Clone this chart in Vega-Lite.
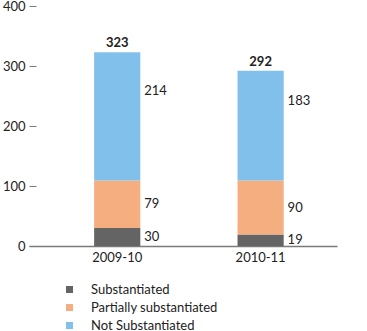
{
  "$schema": "https://vega.github.io/schema/vega-lite/v6.json",
  "width": 308,
  "height": 240,
  "autosize": "none",
  "padding": {"left": 29, "top": 6, "right": 30, "bottom": 85},
  "config": {
    "font": "Lato",
    "view": {"stroke": null},
    "text": {"font": "Lato", "fontSize": 13, "color": "#222222"}
  },
  "data": {
    "values": [
      {"year": "2009-10", "category": "Substantiated", "k": 1, "value": 30},
      {"year": "2009-10", "category": "Partially substantiated", "k": 2, "value": 79},
      {"year": "2009-10", "category": "Not Substantiated", "k": 3, "value": 214},
      {"year": "2010-11", "category": "Substantiated", "k": 1, "value": 19},
      {"year": "2010-11", "category": "Partially substantiated", "k": 2, "value": 90},
      {"year": "2010-11", "category": "Not Substantiated", "k": 3, "value": 183}
    ]
  },
  "encoding": {
    "x": {
      "field": "year",
      "type": "nominal",
      "scale": {"paddingInner": 0.678, "paddingOuter": 0.413, "align": 0.55},
      "axis": {
        "title": null,
        "labelAngle": 0,
        "ticks": false,
        "labelPadding": 5,
        "labelFont": "Lato",
        "labelFontSize": 13,
        "labelColor": "#222222",
        "domainColor": "#7a7a7a",
        "domainWidth": 1.5
      }
    }
  },
  "layer": [
    {
      "mark": {"type": "bar"},
      "encoding": {
        "y": {
          "field": "value",
          "type": "quantitative",
          "stack": "zero",
          "scale": {"domain": [0, 400]},
          "axis": {
            "title": null,
            "values": [0, 100, 200, 300, 400],
            "domain": false,
            "grid": false,
            "tickSize": -7,
            "tickColor": "#7a7a7a",
            "tickWidth": 1,
            "labelPadding": 11,
            "labelFont": "Lato",
            "labelFontSize": 13,
            "labelColor": "#222222"
          }
        },
        "color": {
          "field": "category",
          "type": "nominal",
          "scale": {
            "domain": ["Substantiated", "Partially substantiated", "Not Substantiated"],
            "range": ["#646464", "#f4ae7f", "#82c0ec"]
          },
          "legend": {
            "title": null,
            "orient": "none",
            "legendX": 34,
            "legendY": 277,
            "padding": 0,
            "symbolType": "square",
            "symbolSize": 49,
            "symbolStrokeWidth": 0,
            "labelFont": "Lato",
            "labelFontSize": 13,
            "labelColor": "#222222",
            "labelOffset": 15,
            "rowPadding": 4
          }
        },
        "order": {"field": "k"}
      }
    },
    {
      "transform": [
        {"stack": "value", "groupby": ["year"], "sort": [{"field": "k"}], "as": ["v0", "v1"]},
        {"calculate": "(datum.v0 + datum.v1) / 2", "as": "mid"},
        {"filter": "datum.k < 3"}
      ],
      "mark": {"type": "text", "align": "left", "baseline": "middle", "dx": 27},
      "encoding": {
        "y": {"field": "mid", "type": "quantitative"},
        "text": {"field": "value"}
      }
    },
    {
      "transform": [
        {"stack": "value", "groupby": ["year"], "sort": [{"field": "k"}], "as": ["v0", "v1"]},
        {"calculate": "(datum.v0 + datum.v1) / 2", "as": "mid"},
        {"filter": "datum.k == 3"}
      ],
      "mark": {"type": "text", "align": "left", "baseline": "middle", "dx": 27, "dy": -25},
      "encoding": {
        "y": {"field": "mid", "type": "quantitative"},
        "text": {"field": "value"}
      }
    },
    {
      "transform": [
        {"aggregate": [{"op": "sum", "field": "value", "as": "total"}], "groupby": ["year"]}
      ],
      "mark": {"type": "text", "align": "center", "baseline": "alphabetic", "dy": -5, "fontWeight": "bold"},
      "encoding": {
        "y": {"field": "total", "type": "quantitative"},
        "text": {"field": "total"}
      }
    }
  ]
}
